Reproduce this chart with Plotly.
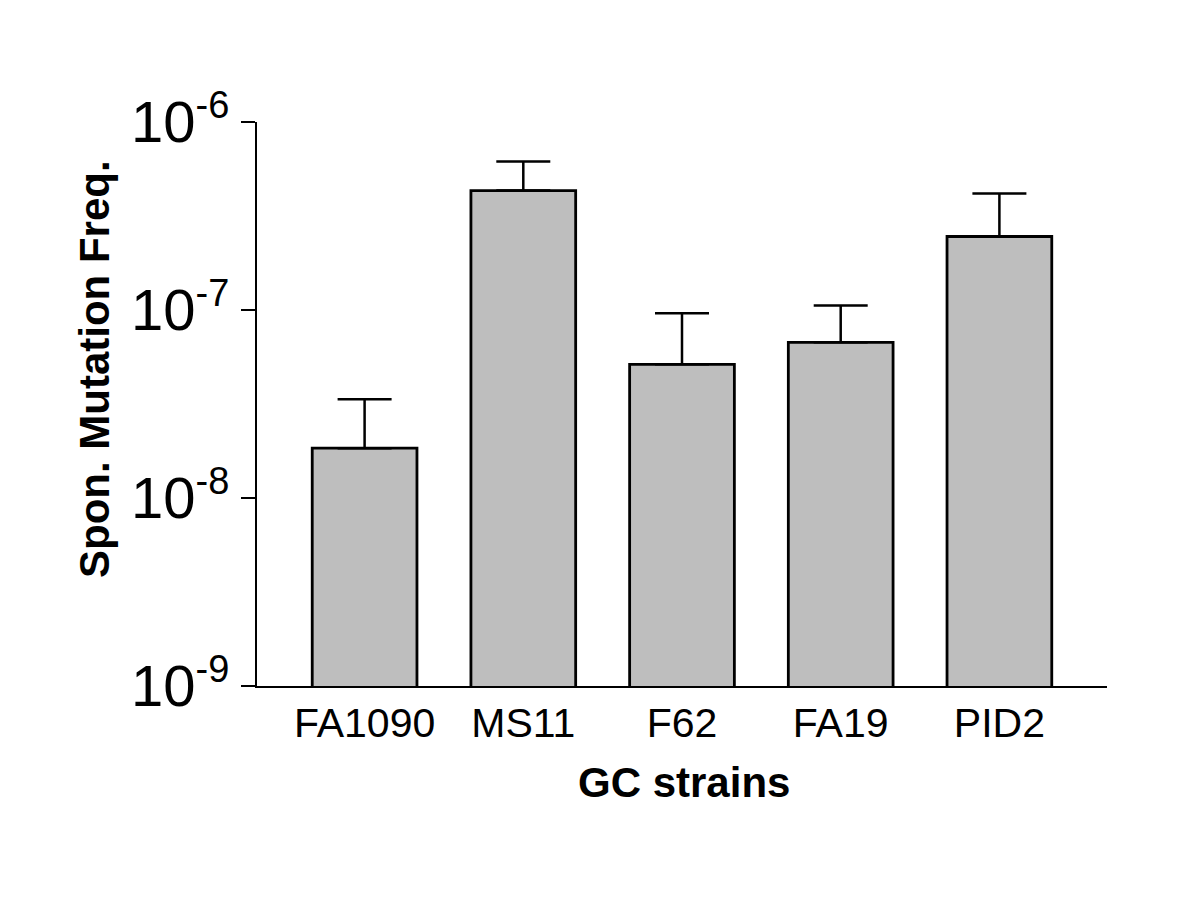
import plotly.graph_objects as go

strains = ["FA1090", "MS11", "F62", "FA19", "PID2"]
freq = [1.84e-8, 4.32e-7, 5.14e-8, 6.73e-8, 2.46e-7]
upper = [3.35e-8, 6.16e-7, 9.6e-8, 1.057e-7, 4.17e-7]
ytick_vals = [1e-9, 1e-8, 1e-7, 1e-6]
ytick_exps = ["-9", "-8", "-7", "-6"]

err_plus = [u - f for u, f in zip(upper, freq)]
ytick_text = ['10<sup><span style="font-size:38px">%s</span></sup>' % e for e in ytick_exps]

FONT = "Liberation Sans, Arial, sans-serif"

fig = go.Figure()
fig.add_trace(go.Bar(
    x=list(range(len(strains))), y=freq, width=0.66,
    marker=dict(color="#bebebe", line=dict(color="black", width=2.8)),
    error_y=dict(type="data", symmetric=False, array=err_plus,
                 arrayminus=[0] * len(freq), color="black",
                 thickness=2.5, width=27),
))

OFF = 8  # body margin of the page
W, H = 1200, 909
L, R, T, B = 257 - OFF, 101, 122 - OFF, 231
PW, PH = W - L - R, H - T - B


def px_x(x):
    return (x - OFF - L) / PW


def px_y(y):
    return (H - B - (y - OFF)) / PH


fig.update_layout(
    width=W, height=H,
    margin=dict(l=L, r=R, t=T, b=B),
    paper_bgcolor="white", plot_bgcolor="white",
    showlegend=False,
    font=dict(family=FONT, color="black"),
    xaxis=dict(
        tickmode="array", tickvals=list(range(len(strains))), ticktext=strains,
        range=[-0.678, 4.678], showline=True, linecolor="black", linewidth=2,
        ticks="", showgrid=False, zeroline=False,
        tickfont=dict(size=41, family=FONT, color="black"),
    ),
    yaxis=dict(
        type="log", range=[-9, -6], tickmode="array",
        tickvals=ytick_vals, ticktext=ytick_text,
        showline=True, linecolor="black", linewidth=2,
        ticks="outside", ticklen=14, tickwidth=2, tickcolor="black",
        showgrid=False, zeroline=False,
        tickfont=dict(size=58, family=FONT, color="black"),
    ),
    annotations=[
        dict(text="<b>Spon. Mutation Freq.</b>", xref="paper", yref="paper",
             x=px_x(94), y=px_y(369),
             xanchor="center", yanchor="middle", textangle=-90,
             showarrow=False, font=dict(size=42, family=FONT, color="black")),
        dict(text="<b>GC strains</b>", xref="paper", yref="paper",
             x=px_x(684), y=px_y(782),
             xanchor="center", yanchor="middle",
             showarrow=False, font=dict(size=42, family=FONT, color="black")),
    ],
)

fig.write_html("out.html")
